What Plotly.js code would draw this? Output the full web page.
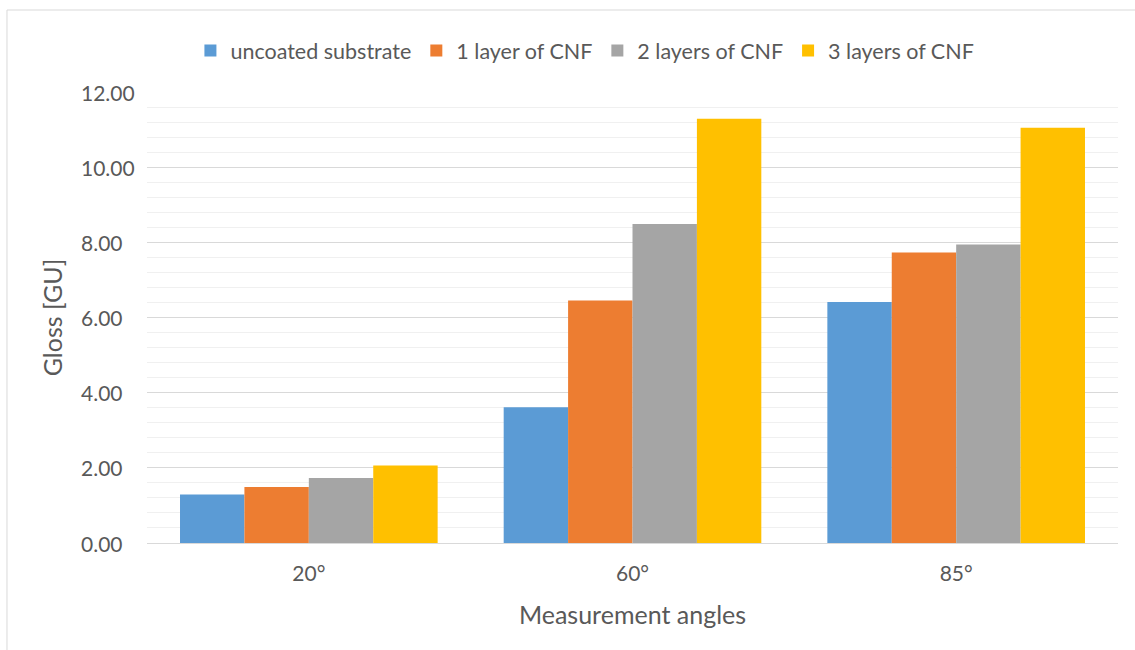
<!DOCTYPE html>
<html>
<head>
<meta charset="utf-8">
<script src="https://cdn.plot.ly/plotly-3.0.1.min.js"></script>
<style>
  html, body { margin: 0; padding: 0; background: #ffffff; }
  #chart { width: 1135px; height: 650px; }
</style>
</head>
<body>
<div id="chart"></div>
<script>
// Measurement angles on the category axis
const angles = ['20°', '60°', '85°'];

// Gloss values [GU] per coating
const uncoated = [1.29, 3.61, 6.41];
const cnf1 = [1.49, 6.45, 7.73];
const cnf2 = [1.73, 8.49, 7.94];
const cnf3 = [2.06, 11.29, 11.05];

const seriesNames = ['uncoated substrate', '1 layer of CNF', '2 layers of CNF', '3 layers of CNF'];
const seriesColors = ['#5b9bd5', '#ed7d31', '#a5a5a5', '#ffc000'];
const seriesValues = [uncoated, cnf1, cnf2, cnf3];

// value-axis ticks (labels are left-aligned in a column beside the plot)
const yTicks = [0, 2, 4, 6, 8, 10, 12];

const FONT = 'Lato, "Liberation Sans", sans-serif';
const TEXT = '#595959';
const TICK_SIZE = 21;

const traces = seriesValues.map((vals, i) => ({
  type: 'bar',
  name: seriesNames[i],
  x: angles,
  y: vals,
  marker: { color: seriesColors[i], line: { width: 0 } },
  hoverinfo: 'x+y+name'
}));

// left edge of the tick label column, in paper units
const labelColumnX = (79 - 147) / 971;

const tickLabels = yTicks.map(v => ({
  xref: 'paper', yref: 'y',
  x: labelColumnX, y: v,
  xanchor: 'left', yanchor: 'middle',
  text: v.toFixed(2),
  showarrow: false,
  font: { family: FONT, size: TICK_SIZE, color: TEXT }
}));

const layout = {
  width: 1135,
  height: 650,
  paper_bgcolor: '#ffffff',
  plot_bgcolor: '#ffffff',
  margin: { l: 147, r: 17, t: 92, b: 107 },
  barmode: 'group',
  bargap: 0.204,
  bargroupgap: 0,
  font: { family: FONT, color: TEXT, size: TICK_SIZE },
  showlegend: true,
  legend: {
    orientation: 'h',
    x: 0.451,
    xanchor: 'center',
    y: 1.092,
    yanchor: 'middle',
    font: { family: FONT, size: 21.5, color: TEXT },
    itemclick: false,
    itemdoubleclick: false
  },
  xaxis: {
    type: 'category',
    showgrid: false,
    zeroline: false,
    showline: true,
    linecolor: '#d9d9d9',
    linewidth: 1,
    ticks: '',
    ticklabelstandoff: 12,
    tickfont: { family: FONT, size: TICK_SIZE, color: TEXT },
    title: {
      text: 'Measurement angles',
      font: { family: FONT, size: 25, color: TEXT },
      standoff: 22
    }
  },
  yaxis: {
    range: [0, 12],
    tickvals: yTicks,
    showticklabels: false,
    showgrid: true,
    gridcolor: '#d9d9d9',
    gridwidth: 1,
    zeroline: false,
    showline: false,
    ticks: '',
    minor: { dtick: 0.4, showgrid: true, gridcolor: '#f0f0f0', gridwidth: 1, ticks: '' },
    title: {
      text: 'Gloss [GU]',
      font: { family: FONT, size: 25, color: TEXT },
      standoff: 76
    }
  },
  annotations: tickLabels,
  shapes: [
    // chart frame (left and top edges)
    { type: 'line', xref: 'paper', yref: 'paper', x0: -0.1442, x1: -0.1442, y0: -0.25, y1: 1.1818,
      line: { color: '#d9d9d9', width: 1 } },
    { type: 'line', xref: 'paper', yref: 'paper', x0: -0.1442, x1: 1.03, y0: 1.1818, y1: 1.1818,
      line: { color: '#d9d9d9', width: 1 } }
  ]
};

Plotly.newPlot('chart', traces, layout, { displayModeBar: false, staticPlot: true });
</script>
</body>
</html>
